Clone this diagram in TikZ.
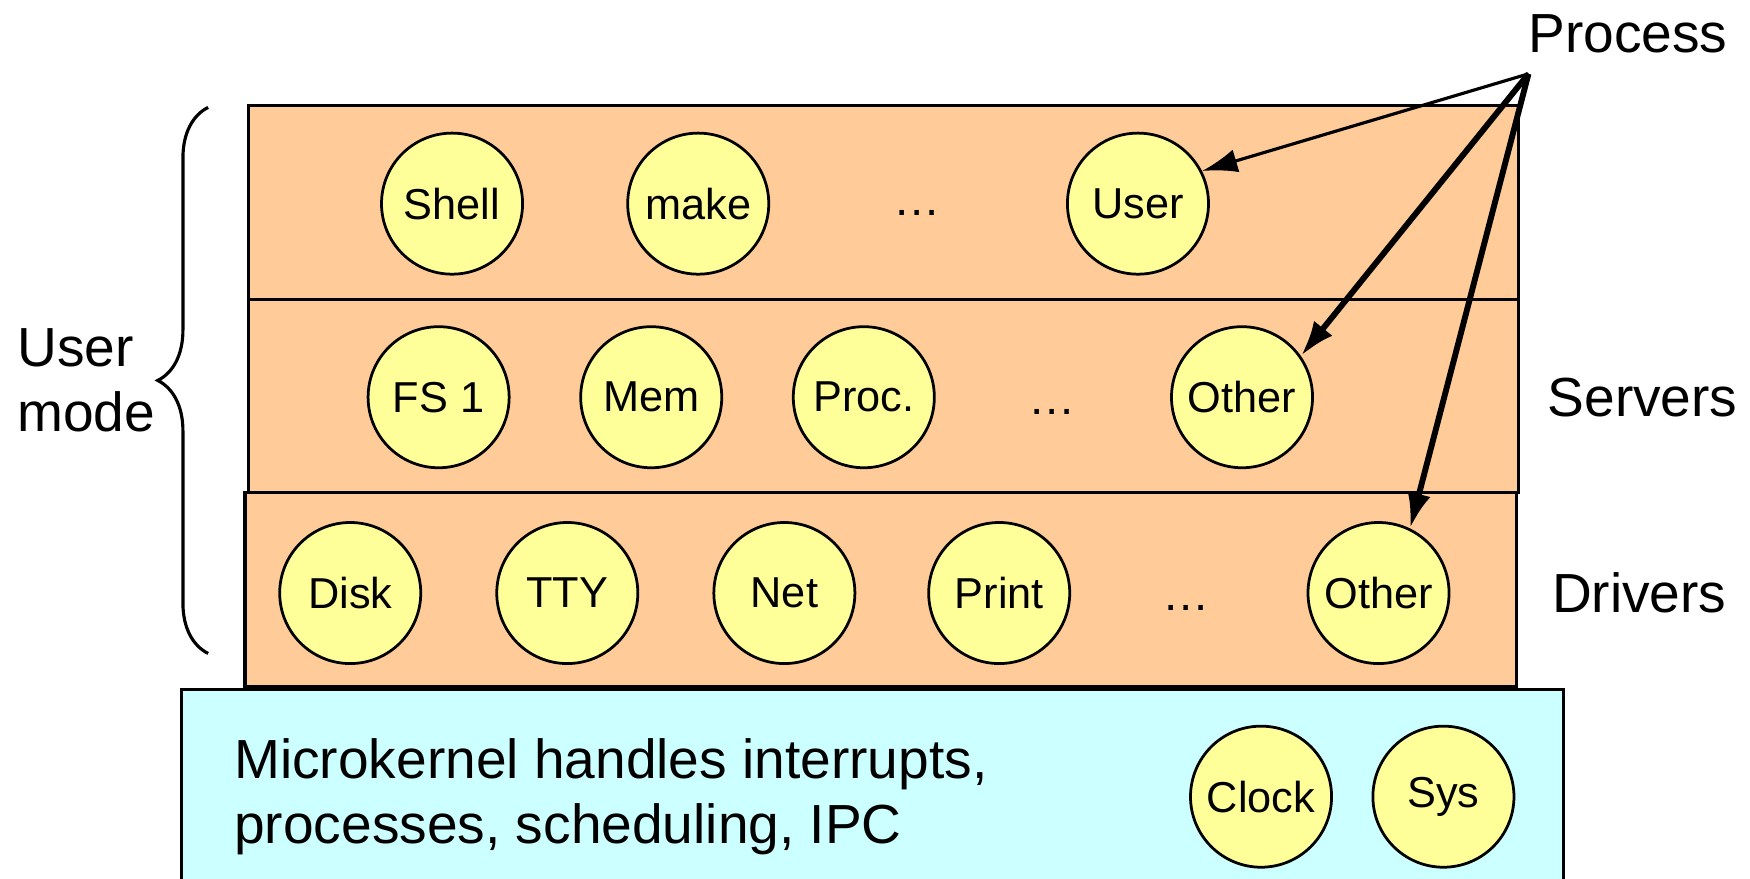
\documentclass[tikz,border=0pt]{standalone}
\usepackage{fontspec}
\setmainfont{Liberation Sans}
\usetikzlibrary{arrows.meta,decorations.pathreplacing}
\definecolor{layerfill}{RGB}{255,204,153}
\definecolor{kernelfill}{RGB}{204,255,255}
\definecolor{procfill}{RGB}{255,255,153}
\tikzset{
  layer/.style={draw, line width=0.8pt, fill=layerfill},
  proc/.style={circle, draw, line width=0.7pt, fill=procfill, minimum size=1.26cm,
    inner sep=0pt, font=\fontsize{11}{13}\selectfont},
  gap/.style={font=\fontsize{12}{14}\selectfont},
  big/.style={font=\fontsize{14}{16.5}\selectfont},
  pointer/.style={-{Latex[length=9pt,width=6pt]}}
}
\begin{document}
\begin{tikzpicture}[x=0.01cm,y=-0.01cm]
    \useasboundingbox (0,0) rectangle (1564,785);
    % layers
    \filldraw[layer](222,94) rectangle (1357,268);
    \filldraw[layer](222,268) rectangle (1357,440);
    \filldraw[layer](219,440) rectangle (1355,614);
    \fill[kernelfill](162,616) rectangle (1397,786);
    \draw[line width=0.8pt](162,786) -- (162,616) -- (1397,616) -- (1397,786);
    % user processes
    \node[proc] (shell) at (404,182) {Shell};
    \node[proc] (make) at (624,182) {make};
    \node[gap] (udots) at (820,190) {\dots};
    \node[proc] (user) at (1017,182) {User};
    % servers
    \node[proc] (fs) at (392,355) {FS 1};
    \node[proc] (mem) at (582,355) {Mem};
    \node[proc] (proc) at (772,355) {Proc.};
    \node[gap] (sdots) at (940,368) {\dots};
    \node[proc] (sother) at (1110,355) {Other};
    % drivers
    \node[proc] (disk) at (313,530) {Disk};
    \node[proc] (tty) at (507,530) {TTY};
    \node[proc] (net) at (701,530) {Net};
    \node[proc] (print) at (893,530) {Print};
    \node[gap] (ddots) at (1060,543) {\dots};
    \node[proc] (dother) at (1232,530) {Other};
    % kernel
    \node[big, anchor=west, align=left] (kernel) at (197,712)
      {Microkernel handles interrupts,\\processes, scheduling, IPC};
    \node[proc] (clock) at (1127,712) {Clock};
    \node[proc] (sys) at (1290,712) {Sys};
    % labels
    \node[big] (process) at (1455,30) {Process};
    \node[big] (servers) at (1468,355) {Servers};
    \node[big] (drivers) at (1465,530) {Drivers};
    \node[big, align=left] (usermode) at (77,340) {User\\mode};
    \draw[line width=0.8pt, decorate, decoration={brace, amplitude=0.45cm}]
      (186,584) -- (186,96);
    % arrows
    \coordinate (src) at (1366,66);
    \draw[pointer, line width=0.8pt](src) -- (user.27);
    \draw[pointer, line width=1.5pt](src) -- (sother.35);
    \draw[pointer, line width=1.5pt](src) -- (dother.64);
  \end{tikzpicture}
\end{document}
